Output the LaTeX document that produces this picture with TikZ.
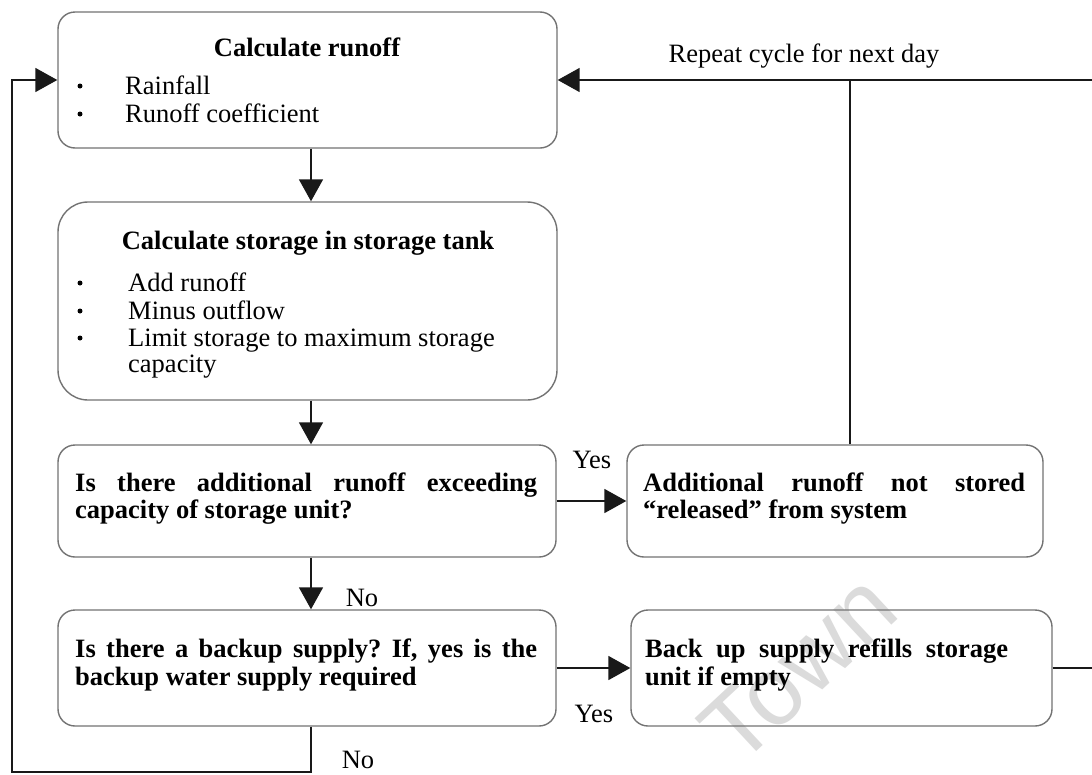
\documentclass[tikz,border=0pt]{standalone}
\usepackage{fontspec}
\setmainfont{Liberation Serif}
\newfontfamily\wmfont{Liberation Sans}
\usetikzlibrary{arrows.meta}
\frenchspacing

\begin{document}
\begin{tikzpicture}[x=1pt,y=-1pt,
  box/.style={draw=black!55, line width=1.4pt, rounded corners=17pt, inner sep=0pt},
  bigbox/.style={box, rounded corners=30pt},
  flow/.style={draw=black!90, line width=1.7pt},
  tip/.style={-{Triangle[length=22pt,width=24pt]}},
  txt/.style={inner sep=0pt, anchor=base west, font=\fontsize{26.5}{29}\selectfont},
  btxt/.style={txt, font=\fontsize{26.5}{29}\selectfont\bfseries},
  ttl/.style={inner sep=0pt, anchor=base, font=\fontsize{26.5}{29}\selectfont\bfseries},
  lbl/.style={inner sep=0pt, anchor=base, font=\fontsize{26.5}{29}\selectfont},
  dot/.style={circle, fill=black, inner sep=0pt, minimum size=5pt},
  wm/.style={inner sep=0pt, text=black!14, font=\fontsize{96}{96}\selectfont\wmfont}
]
\clip (0,0) rectangle (1092,774);
\fill[white] (0,0) rectangle (1092,774);

% faint watermark behind the chart
\node[wm, rotate=43] (wmark) at (798,668) {Town};

% boxes
\node[box, minimum width=499pt, minimum height=136pt] (b1) at (307.5,80) {};
\node[bigbox, minimum width=499pt, minimum height=198pt] (b2) at (307.5,301) {};
\node[box, minimum width=498pt, minimum height=112pt] (b3) at (307,501) {};
\node[box, minimum width=498pt, minimum height=116pt] (b4) at (307,668) {};
\node[box, minimum width=416pt, minimum height=112pt] (b5) at (835,501) {};
\node[box, minimum width=421pt, minimum height=116pt] (b6) at (841.5,668) {};

% box 1 text
\node[ttl] (t1) at (307,56) {Calculate runoff};
\node[dot] (d11) at (80,86) {};
\node[txt] (t11) at (125,94) {Rainfall};
\node[dot] (d12) at (80,114) {};
\node[txt] (t12) at (125,122) {Runoff coefficient};

% box 2 text
\node[ttl] (t2) at (308,249) {Calculate storage in storage tank};
\node[dot] (d21) at (80,283) {};
\node[txt] (t21) at (128,291) {Add runoff};
\node[dot] (d22) at (80,311) {};
\node[txt] (t22) at (128,319) {Minus outflow};
\node[dot] (d23) at (80,338) {};
\node[txt] (t23) at (128,346) {Limit storage to maximum storage};
\node[txt] (t24) at (128,372) {capacity};

% box 3 text
\node[btxt] (t31) at (75,491) {\makebox[462pt][s]{Is there additional runoff exceeding}};
\node[btxt] (t32) at (75,518) {capacity of storage unit?};

% box 4 text
\node[btxt] (t41) at (75,657) {\makebox[462pt][s]{Is there a backup supply? If, yes is the}};
\node[btxt] (t42) at (75,685) {backup water supply required};

% box 5 text
\node[btxt] (t51) at (643,491) {\makebox[382pt][s]{Additional runoff not stored}};
\node[btxt] (t52) at (643,518) {\textquotedblleft released\textquotedblright{} from system};

% box 6 text
\node[btxt] (t61) at (645,657) {\makebox[363pt][s]{Back up supply refills storage}};
\node[btxt] (t62) at (645,685) {unit if empty};

% routing points
\coordinate (ax) at (311,0);
\coordinate (lp) at (12,772);
\coordinate (rx) at (850,0);
\coordinate (rtop) at (1110,80);
\coordinate (rbot) at (1110,668);

% connectors
\draw[flow,tip] (b1.south -| ax) -- (b2.north -| ax);
\draw[flow,tip] (b2.south -| ax) -- (b3.north -| ax);
\draw[flow,tip] (b3.south -| ax) -- (b4.north -| ax);
\draw[flow,tip] (b3.east) -- (b5.west);
\draw[flow,tip] (b4.east) -- (b6.west);
\draw[flow,tip] (b4.south -| ax) |- (lp) |- (b1.west);
\draw[flow] (b5.north -| rx) -- (rx |- b1.east);
\draw[flow,tip] (rtop) -- (b1.east);
\draw[flow] (b6.east) -- (rbot) -- (rtop);

% labels
\node[lbl] (l1) at (804,62) {Repeat cycle for next day};
\node[lbl] (l2) at (592,468) {Yes};
\node[lbl] (l3) at (362,606) {No};
\node[lbl] (l4) at (594,722) {Yes};
\node[lbl] (l5) at (358,768) {No};
\end{tikzpicture}
\end{document}
